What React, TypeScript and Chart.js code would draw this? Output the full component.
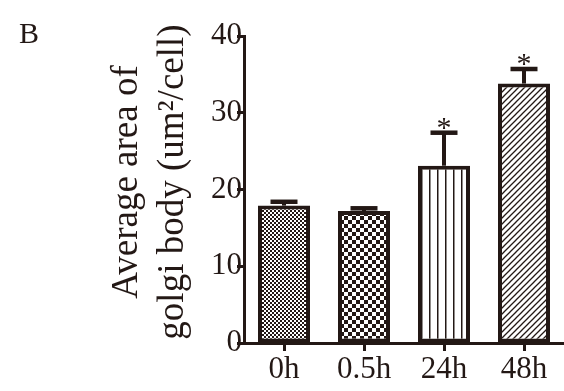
import React, { useEffect, useRef } from "react";
import { Chart, registerables } from "chart.js";

Chart.register(...registerables);

const categories = ["0h", "0.5h", "24h", "48h"];
const means = [17.9, 17.2, 23.1, 33.8];
const errors = [0.5, 0.35, 4.3, 1.9];
const significance = ["", "", "*", "*"];
const yTicks = [0, 10, 20, 30, 40];
const yTitle = ["Average area of", "golgi body (um\u00B2/cell)"];
const panelLabel = "B";

const INK = "#231815";
const FONT = "'Liberation Serif', serif";

function makePattern(kind: string): CanvasPattern | string {
  const c = document.createElement("canvas");
  const g = c.getContext("2d");
  if (!g) return "#fff";
  if (kind === "fine") {
    c.width = 4; c.height = 4;
    g.fillStyle = "#fff"; g.fillRect(0, 0, 4, 4);
    g.fillStyle = INK; g.fillRect(0, 0, 2, 2); g.fillRect(2, 2, 2, 2);
  } else if (kind === "coarse") {
    c.width = 8; c.height = 8;
    g.fillStyle = "#fff"; g.fillRect(0, 0, 8, 8);
    g.fillStyle = INK; g.fillRect(0, 0, 4, 4); g.fillRect(4, 4, 4, 4);
  } else if (kind === "vertical") {
    c.width = 8; c.height = 8;
    g.fillStyle = "#fff"; g.fillRect(0, 0, 8, 8);
    g.fillStyle = INK; g.fillRect(5, 0, 1.5, 8);
  } else {
    c.width = 6; c.height = 6;
    g.fillStyle = "#fff"; g.fillRect(0, 0, 6, 6);
    g.strokeStyle = INK; g.lineWidth = 1.3;
    g.beginPath();
    g.moveTo(-1, 7); g.lineTo(7, -1);
    g.moveTo(-1, 1); g.lineTo(1, -1);
    g.moveTo(5, 7); g.lineTo(7, 5);
    g.stroke();
  }
  const p = g.createPattern(c, "repeat");
  return p || "#fff";
}

const errorBarPlugin = {
  id: "errorBars",
  afterDatasetsDraw(chart: any) {
    const ctx = chart.ctx;
    const xs = chart.scales.x;
    const ys = chart.scales.y;
    ctx.save();
    ctx.strokeStyle = INK;
    ctx.fillStyle = INK;
    means.forEach((m, i) => {
      const x = xs.getPixelForValue(i);
      const yBar = ys.getPixelForValue(m);
      const yTop = ys.getPixelForValue(m + errors[i]);
      ctx.lineWidth = 4;
      ctx.beginPath();
      ctx.moveTo(x, yBar);
      ctx.lineTo(x, yTop);
      ctx.stroke();
      ctx.lineWidth = 4.5;
      ctx.beginPath();
      ctx.moveTo(x - 13.5, yTop);
      ctx.lineTo(x + 13.5, yTop);
      ctx.stroke();
      if (significance[i]) {
        ctx.font = `30px ${FONT}`;
        ctx.textAlign = "center";
        ctx.textBaseline = "alphabetic";
        ctx.fillText(significance[i], x, yTop + 4);
      }
    });
    ctx.restore();
  },
};

const textPlugin = {
  id: "texts",
  afterDraw(chart: any) {
    const ctx = chart.ctx;
    ctx.save();
    ctx.fillStyle = INK;
    ctx.font = `30px ${FONT}`;
    ctx.textAlign = "left";
    ctx.textBaseline = "alphabetic";
    ctx.fillText(panelLabel, 19, 43);
    ctx.font = `37px ${FONT}`;
    ctx.textAlign = "center";
    ctx.textBaseline = "middle";
    const xsPos = [127, 173];
    yTitle.forEach((line, i) => {
      ctx.save();
      ctx.translate(xsPos[i], 182);
      ctx.rotate(-Math.PI / 2);
      ctx.fillText(line, 0, 0);
      ctx.restore();
    });
    ctx.restore();
  },
};

export default function App() {
  const ref = useRef<HTMLCanvasElement>(null);
  useEffect(() => {
    if (!ref.current) return;
    const patterns = [
      makePattern("fine"),
      makePattern("coarse"),
      makePattern("vertical"),
      makePattern("diagonal"),
    ];
    const chart = new Chart(ref.current, {
      type: "bar",
      data: {
        labels: categories,
        datasets: [
          {
            data: means,
            backgroundColor: patterns as any,
            borderColor: INK,
            borderWidth: 4,
            borderSkipped: false,
            barPercentage: 0.65,
            categoryPercentage: 1,
          },
        ],
      },
      options: {
        responsive: false,
        animation: false,
        devicePixelRatio: 1,
        layout: { padding: { top: 36, right: 0, left: 0, bottom: 0 } },
        plugins: {
          legend: { display: false },
          tooltip: { enabled: false },
          title: { display: false },
        },
        scales: {
          x: {
            grid: {
              display: true,
              drawOnChartArea: false,
              drawTicks: true,
              offset: false,
              tickLength: 8,
              tickWidth: 3,
              tickColor: INK,
            },
            border: { display: true, color: INK, width: 3 },
            ticks: {
              color: INK,
              font: { family: FONT, size: 31 },
              padding: 0,
              maxRotation: 0,
            },
            afterFit: (s: any) => {
              s.height = 48;
            },
          },
          y: {
            min: 0,
            max: 40,
            afterBuildTicks: (s: any) => {
              s.ticks = yTicks.map((v) => ({ value: v }));
            },
            grid: {
              display: true,
              drawOnChartArea: false,
              drawTicks: true,
              tickLength: 7,
              tickWidth: 3,
              tickColor: INK,
            },
            border: { display: true, color: INK, width: 3 },
            ticks: {
              color: INK,
              font: { family: FONT, size: 31 },
              padding: -5,
            },
            afterFit: (s: any) => {
              s.width = 244;
            },
          },
        },
      },
      plugins: [errorBarPlugin, textPlugin],
    });
    return () => chart.destroy();
  }, []);
  return (
    <div style={{ position: "absolute", left: 0, top: 0, width: 564, height: 391, background: "#fff" }}>
      <canvas ref={ref} width={564} height={391} style={{ display: "block" }} />
    </div>
  );
}
